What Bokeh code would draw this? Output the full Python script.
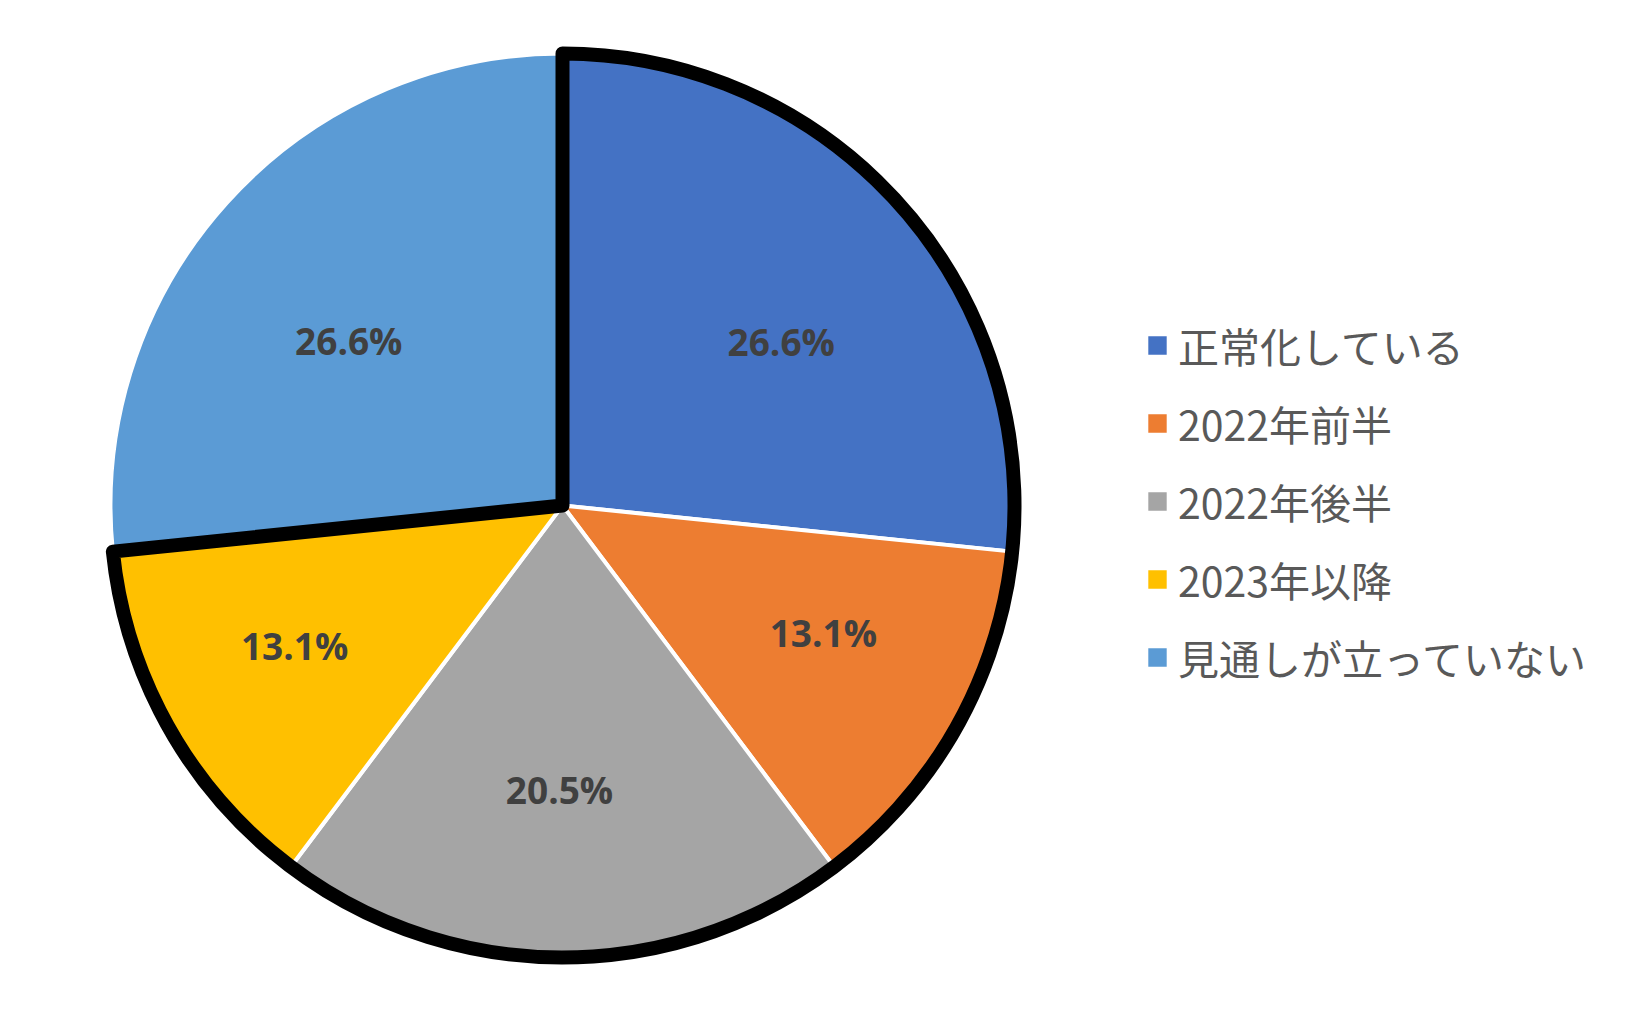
import math
from bokeh.plotting import figure
from bokeh.models import Range1d, Legend, LegendItem, ColumnDataSource
from bokeh.core.properties import value
from bokeh.embed import file_html
from bokeh.resources import INLINE

# ---- data ----
categories = ["正常化している", "2022年前半", "2022年後半", "2023年以降", "見通しが立っていない"]
values = [26.6, 13.1, 20.5, 13.1, 26.6]
colors = ["#4472C4", "#ED7D31", "#A5A5A5", "#FFC000", "#5B9BD5"]
outlined = [True, True, True, True, False]

# ---- layout / style constants ----
W, H = 1621, 998
CX, CY = 562, 505          # pie centre in frame px (from left / from top)
R_PX = 452                 # radius in px
LABEL_R = 0.64
LABEL_DX = [4, 9, -3, -16, 1]      # screen px nudges of data labels
LABEL_DY = [30, -15, -5, -2, 29]   # screen px (positive = down)

total = sum(values)
starts, ends, mids = [], [], []
cum = 0.0
for v in values:
    a_end = math.pi / 2 - 2 * math.pi * cum / total
    a_start = math.pi / 2 - 2 * math.pi * (cum + v) / total
    starts.append(a_start)
    ends.append(a_end)
    mids.append((a_start + a_end) / 2)
    cum += v

src = ColumnDataSource(dict(
    cat=categories, val=values, color=colors,
    start=starts, end=ends,
    lx=[LABEL_R * math.cos(m) for m in mids],
    ly=[LABEL_R * math.sin(m) for m in mids],
    dx=LABEL_DX, dy=LABEL_DY,
    lab=[f"{v:.1f}%" for v in values],
))

p = figure(width=W, height=H, output_backend="svg", toolbar_location=None,
           x_range=Range1d(-CX / R_PX, (W - CX) / R_PX),
           y_range=Range1d(-(H - CY) / R_PX, CY / R_PX),
           min_border=0)
p.axis.visible = False
p.grid.visible = False
p.outline_line_color = None
p.background_fill_color = "white"

wr = p.wedge(x=0, y=0, radius=1, start_angle="start", end_angle="end",
             fill_color="color", line_color="white", line_width=4, source=src)

# black outline around the outlined slices (contiguous group)
idx = [i for i, o in enumerate(outlined) if o]
p.wedge(x=0, y=0, radius=1, start_angle=starts[idx[-1]], end_angle=ends[idx[0]],
        fill_color=None, line_color="black", line_width=14, line_join="round")

p.text(x="lx", y="ly", text="lab", source=src, x_offset="dx", y_offset="dy",
       text_align="center", text_baseline="middle",
       text_font=value("Open Sans"), text_font_style="bold",
       text_font_size="37px", text_color="#404040")

items = [LegendItem(label=c, renderers=[wr], index=i) for i, c in enumerate(categories)]
legend = Legend(items=items, location=(1143, 311), orientation="vertical",
                glyph_width=28, glyph_height=28, label_standoff=7,
                label_text_font="Noto Sans CJK JP", label_text_font_size="41px",
                label_text_color="#595959", spacing=18, padding=0, margin=0,
                border_line_color=None, background_fill_alpha=0)
p.add_layout(legend, "center")

open("out.html", "w").write(file_html(p, INLINE))
